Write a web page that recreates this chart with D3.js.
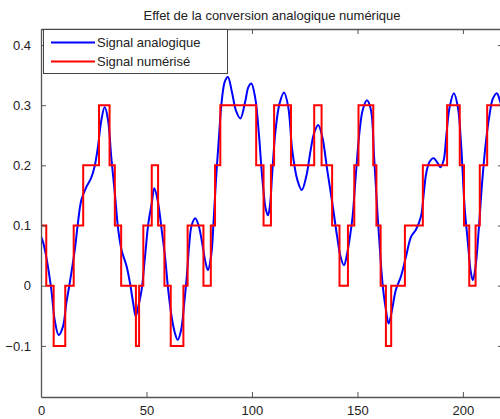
<!DOCTYPE html>
<html>
<head>
<meta charset="utf-8">
<script src="https://cdn.jsdelivr.net/npm/d3@7"></script>
<style>
  body { margin: 0; background: #fff; }
  svg { display: block; font-family: "Liberation Sans", Arial, sans-serif; }
</style>
</head>
<body>
<div class="chart"></div>
<script>
// --- data
const title = "Effet de la conversion analogique numérique";
const seriesNames = ["Signal analogique", "Signal numérisé"];

// analog signal: sample positions and values
const analogX = [0, 1, 2.5, 4.9, 6.5, 8.4, 10.4, 12, 13.6, 16, 17.5, 19.1, 21.5, 23.8, 25.4, 27, 28.6, 30.2, 31.8, 33.3,
  35.1, 36.6, 38.2, 40.6, 42.2, 43.7, 44.9, 46.1, 47.7, 49.3, 50.9, 52.5, 53.7, 55.3, 57.2, 58.8, 60.3, 61.9, 63.5, 64.8,
  66.4, 67.9, 69.1, 70.3, 71.4, 73.1, 74.7, 76.3, 77.9, 79.1, 80.7, 81.8, 82.9, 84.2, 85.8, 87.2, 88.6, 90.5, 92.5, 94.5,
  96.8, 98.3, 99.7, 101.6, 103.2, 104.4, 105.5, 106.5, 107.6, 108.6, 109.6, 111.2, 113.1, 115.2, 117.2, 119.1, 121.5, 123.6, 125.7, 127.8,
  129.4, 131.4, 133.3, 135.7, 138.1, 140.4, 142, 143.6, 145.2, 146.6, 147.7, 149.3, 150.9, 152.5, 154.5, 156.4, 157.9, 159.6, 161.1, 162.2,
  163.5, 164.8, 166.4, 168.2, 170.6, 173, 175.4, 177.7, 180.1, 181.5, 182.6, 184.2, 186.1, 188.2, 189.3, 190.9, 192.1, 193.7, 195.7, 197.6,
  199.2, 200.8, 202.4, 203.6, 204.7, 206, 207.6, 209.2, 211, 212.7, 214.2, 216.1, 217.5, 219];
const analogY = [0.082, 0.072, 0.048, -0.007, -0.057, -0.082, -0.068, -0.029, 0.004, 0.059, 0.104, 0.142, 0.164, 0.179, 0.198, 0.231, 0.275, 0.297, 0.275, 0.214,
  0.15, 0.093, 0.059, 0.032, 0.004, -0.029, -0.051, -0.035, -0.007, 0.048, 0.104, 0.137, 0.162, 0.142, 0.093, 0.048, -0.007, -0.051, -0.079, -0.09,
  -0.074, -0.029, 0.015, 0.07, 0.1, 0.112, 0.1, 0.073, 0.04, 0.026, 0.051, 0.106, 0.173, 0.239, 0.311, 0.34, 0.347, 0.322, 0.29, 0.278,
  0.306, 0.33, 0.336, 0.311, 0.256, 0.2, 0.156, 0.128, 0.117, 0.135, 0.187, 0.259, 0.303, 0.321, 0.297, 0.225, 0.176, 0.159, 0.181, 0.225,
  0.253, 0.267, 0.248, 0.192, 0.137, 0.081, 0.048, 0.034, 0.055, 0.085, 0.115, 0.187, 0.253, 0.292, 0.308, 0.292, 0.214, 0.115, 0.037, -0.007,
  -0.04, -0.063, -0.04, -0.007, 0.015, 0.048, 0.081, 0.093, 0.115, 0.155, 0.187, 0.206, 0.212, 0.203, 0.197, 0.209, 0.248, 0.297, 0.32, 0.297,
  0.231, 0.131, 0.07, 0.026, 0.009, 0.032, 0.098, 0.176, 0.242, 0.286, 0.311, 0.32, 0.308, 0.29];

// digitised signal: where each step starts and its level
const digitalX = [0, 2.5, 6, 11.5, 15.5, 20, 27.5, 32.5, 35, 38, 45, 46.5, 48.5, 52.5, 55.5, 58.5, 61.5, 67.5, 69.5, 77,
  80.5, 82.5, 85, 102, 105.5, 109, 110.5, 118.5, 129.5, 133, 138, 141.5, 145.5, 148.5, 150.5, 157.5, 159, 161, 163.5, 166,
  172.5, 181, 192.5, 198.5, 200.5, 203, 206, 208, 211.5, 220];
const digitalY = [0.1, 0, -0.1, 0, 0.1, 0.2, 0.3, 0.2, 0.1, 0, -0.1, 0, 0.1, 0.2, 0.1, 0, -0.1, 0, 0.1, 0,
  0.1, 0.2, 0.3, 0.2, 0.1, 0.2, 0.3, 0.2, 0.3, 0.2, 0.1, 0, 0.1, 0.2, 0.3, 0.2, 0.1, 0, -0.1, 0,
  0.1, 0.2, 0.3, 0.2, 0.1, 0, 0.1, 0.2, 0.3, 0.3];

const xTicks = [0, 50, 100, 150, 200];
const yTicks = [-0.1, 0, 0.1, 0.2, 0.3, 0.4];

// --- layout
const width = 500, height = 419;
const plotLeft = 41, plotTop = 29, plotBottom = 397, plotRight = 503;

const x = d3.scaleLinear().domain([0, 219]).range([plotLeft, plotRight]);
const yBase = d3.scaleLinear().domain([0, 0.4]).range([285.7, 45]);
const y = d3.scaleLinear().domain([yBase.invert(plotBottom), yBase.invert(plotTop)]).range([plotBottom, plotTop]);

const svg = d3.select(".chart").append("svg")
  .attr("width", width)
  .attr("height", height);

// title
svg.append("text")
  .attr("x", (plotLeft + plotRight) / 2)
  .attr("y", 20)
  .attr("text-anchor", "middle")
  .attr("font-size", "13px")
  .attr("fill", "#222")
  .text(title);

// clip for the lines
svg.append("clipPath").attr("id", "plot")
  .append("rect")
  .attr("x", plotLeft).attr("y", plotTop)
  .attr("width", plotRight - plotLeft).attr("height", plotBottom - plotTop);

const plot = svg.append("g").attr("clip-path", "url(#plot)");

const analog = analogX.map((d, i) => [d, analogY[i]]);
const digital = digitalX.map((d, i) => [d, digitalY[i]]);

plot.append("path")
  .datum(analog)
  .attr("fill", "none")
  .attr("stroke", "#0000ff")
  .attr("stroke-width", 2)
  .attr("d", d3.line().x(d => x(d[0])).y(d => y(d[1])).curve(d3.curveCatmullRom));

plot.append("path")
  .datum(digital)
  .attr("fill", "none")
  .attr("stroke", "#ff0000")
  .attr("stroke-width", 2)
  .attr("d", d3.line().x(d => x(d[0])).y(d => y(d[1])).curve(d3.curveStepAfter));

// axes (ticks pointing inwards, matlab style)
const axisColor = "#555";
const xAxis = svg.append("g")
  .attr("transform", `translate(0,${plotBottom})`)
  .call(d3.axisBottom(x).tickValues(xTicks).tickSizeInner(-5).tickSizeOuter(0).tickPadding(9));
const xAxisTop = svg.append("g")
  .attr("transform", `translate(0,${plotTop})`)
  .call(d3.axisTop(x).tickValues(xTicks).tickSizeInner(-5).tickSizeOuter(0).tickFormat(""));
const yAxis = svg.append("g")
  .attr("transform", `translate(${plotLeft},0)`)
  .call(d3.axisLeft(y).tickValues(yTicks).tickSizeInner(-5).tickSizeOuter(0).tickPadding(10)
    .tickFormat(d => d === 0 ? "0" : d3.format(".1f")(d)));
const yAxisRight = svg.append("g")
  .attr("transform", `translate(${plotRight},0)`)
  .call(d3.axisRight(y).tickValues(yTicks).tickSizeInner(-5).tickSizeOuter(0).tickFormat(""));

[xAxis, xAxisTop, yAxis, yAxisRight].forEach(a => {
  a.select(".domain").attr("stroke", axisColor).attr("stroke-width", 1.3);
  a.selectAll(".tick line").attr("stroke", axisColor);
  a.selectAll(".tick text")
    .attr("font-size", "13px")
    .attr("font-family", "'Liberation Sans', Arial, sans-serif")
    .attr("fill", "#222");
});

// legend
const legend = svg.append("g").attr("class", "legend");
legend.append("rect")
  .attr("x", 43.5).attr("y", 29.5)
  .attr("width", 184).attr("height", 44)
  .attr("fill", "#fff")
  .attr("stroke", "#444")
  .attr("stroke-width", 1);

const legendColors = ["#0000ff", "#ff0000"];
seriesNames.forEach((name, i) => {
  const ly = 42.5 + i * 19;
  legend.append("line")
    .attr("x1", 51).attr("x2", 95)
    .attr("y1", ly).attr("y2", ly)
    .attr("stroke", legendColors[i])
    .attr("stroke-width", 2);
  legend.append("text")
    .attr("x", 97)
    .attr("y", ly + 4.5)
    .attr("font-size", "13px")
    .attr("fill", "#222")
    .text(name);
});
</script>
</body>
</html>
